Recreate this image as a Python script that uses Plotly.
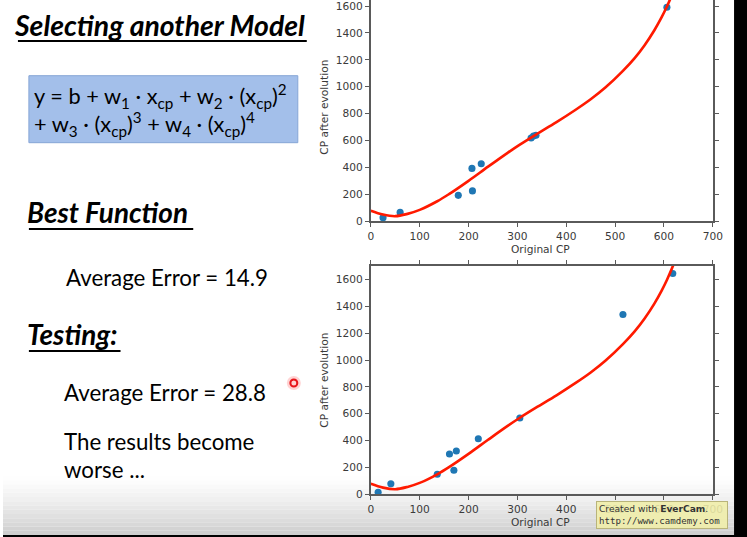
import plotly.graph_objects as go

# design coordinates are in picture pixels (747 x 537); the figure is drawn
# slightly larger because the page is captured a little smaller than drawn
K = 1.0134
W, H = 747, 537
FW, FH = round(W * K), round(H * K)

# ---------------- data ----------------
train_x = [338, 333, 328, 207, 226, 25, 179, 60, 208, 606]
train_y = [640, 633, 619, 393, 428, 27, 193, 66, 226, 1591]

test_x = [15, 41, 136, 161, 170, 175, 220, 305, 516, 618]
test_y = [15, 79, 149, 300, 179, 322, 414, 568, 1339, 1644]

# fitted model curve
curve_x = [0, 25, 50, 75, 100, 136, 160, 200, 240, 280, 305, 338, 380, 420,
           450, 480, 516, 540, 560, 580, 595, 606, 614, 620]
curve_y = [79, 50, 38, 55, 85, 149, 202, 301, 406, 509, 570, 645, 737, 831,
           907, 994, 1118, 1213, 1307, 1418, 1515, 1596, 1662, 1716]

x_ticks = [0, 100, 200, 300, 400, 500, 600, 700]
y_ticks = [0, 200, 400, 600, 800, 1000, 1200, 1400, 1600]


def px(x):
    return x / W


def py(y):
    return 1 - y / H


def fs(s):
    return s * K


fig = go.Figure()

mk = dict(color="#1f77b4", size=fs(7))
ln = dict(color="#ff1a00", width=fs(2.6), shape="spline")
fig.add_trace(go.Scatter(x=train_x, y=train_y, mode="markers", marker=mk, xaxis="x", yaxis="y"))
fig.add_trace(go.Scatter(x=curve_x, y=curve_y, mode="lines", line=ln, xaxis="x", yaxis="y"))
fig.add_trace(go.Scatter(x=test_x, y=test_y, mode="markers", marker=mk, xaxis="x2", yaxis="y2"))
fig.add_trace(go.Scatter(x=curve_x, y=curve_y, mode="lines", line=ln, xaxis="x2", yaxis="y2"))

tickfont = dict(family="DejaVu Sans", size=fs(10.5), color="#3a3a3a")
axcommon = dict(showgrid=False, zeroline=False, showline=True, linecolor="#5a5a5a",
                linewidth=fs(1.5), ticks="outside", ticklen=fs(4), tickwidth=1,
                tickcolor="#5a5a5a", tickfont=tickfont, ticklabeloverflow="allow")

xd = [px(369.3), px(712.7)]
fig.update_layout(
    width=FW, height=FH,
    margin=dict(l=0, r=0, t=0, b=0),
    paper_bgcolor="white",
    plot_bgcolor="rgba(0,0,0,0)",
    showlegend=False,
    xaxis=dict(domain=xd, range=[0, 700], tickvals=x_ticks, anchor="y",
               mirror=False, **axcommon),
    yaxis=dict(domain=[py(221.3), 1], range=[0, 1644.6], tickvals=y_ticks,
               anchor="x", mirror="allticks", **axcommon),
    xaxis2=dict(domain=xd, range=[0, 700], tickvals=x_ticks, anchor="y2",
                mirror="allticks", **axcommon),
    yaxis2=dict(domain=[py(494.3), py(266)], range=[0, 1700], tickvals=y_ticks,
                anchor="x2", mirror="allticks", **axcommon),
)

shapes = []
annotations = []

# bottom shading of the video frame
n = 14
y_start, y_end = 476, 535
for i in range(n):
    y0 = y_start + (y_end - y_start) * i / n
    y1 = y_start + (y_end - y_start) * (i + 1) / n
    g = int(255 - (255 - 205) * ((i + 0.5) / n) ** 1.3)
    shapes.append(dict(type="rect", xref="paper", yref="paper",
                       x0=0, x1=1, y0=py(y1), y1=py(y0),
                       fillcolor=f"rgb({g},{g},{g})", line=dict(width=0), layer="below"))
shapes.append(dict(type="rect", xref="paper", yref="paper", x0=0, x1=1,
                   y0=0, y1=py(535), fillcolor="black", line=dict(width=0), layer="above"))
shapes.append(dict(type="rect", xref="paper", yref="paper", x0=px(734), x1=1,
                   y0=0, y1=1, fillcolor="black", line=dict(width=0), layer="above"))

# formula box
shapes.append(dict(type="rect", xref="paper", yref="paper",
                   x0=px(26), x1=px(296), y0=py(142.7), y1=py(75.7),
                   fillcolor="#a3bfea", line=dict(color="#86a5d6", width=1), layer="below"))

# underlines
for x0, x1, y in [(15, 305, 41), (26, 191, 229), (26, 118, 351)]:
    shapes.append(dict(type="line", xref="paper", yref="paper",
                       x0=px(x0), x1=px(x1), y0=py(y), y1=py(y),
                       line=dict(color="black", width=fs(1.8))))

# laser pointer dot
shapes.append(dict(type="circle", xref="paper", yref="paper",
                   x0=px(285), x1=px(299), y0=py(390), y1=py(376),
                   fillcolor="rgba(255,80,80,0.25)", line=dict(width=0)))
shapes.append(dict(type="circle", xref="paper", yref="paper",
                   x0=px(288.5), x1=px(295.5), y0=py(386.5), y1=py(379.5),
                   fillcolor="rgba(255,210,210,1)", line=dict(color="#e8141a", width=2)))

slide_font = "Lato"


def txt(x, y, s, size, bold=False, italic=False, color="black", family=slide_font):
    if bold:
        s = f"<b>{s}</b>"
    if italic:
        s = f"<i>{s}</i>"
    annotations.append(dict(x=px(x), y=py(y), xref="paper", yref="paper",
                            xanchor="left", yanchor="middle", showarrow=False,
                            text=s, font=dict(family=family, size=fs(size), color=color)))


txt(9, 25, "Selecting another Model", 28, bold=True, italic=True)
txt(29, 96, "y = b + w<sub>1</sub> · x<sub>cp</sub> + w<sub>2</sub> · (x<sub>cp</sub>)<sup>2</sup>", 21.5)
txt(29, 124, "+ w<sub>3</sub> · (x<sub>cp</sub>)<sup>3</sup> + w<sub>4</sub> · (x<sub>cp</sub>)<sup>4</sup>", 21.5)
txt(22, 213, "Best Function", 27.5, bold=True, italic=True)
txt(61, 277, "Average Error = 14.9", 22)
txt(22, 334, "Testing:", 27.5, bold=True, italic=True)
txt(59, 392, "Average Error = 28.8", 22)
txt(59, 441, "The results become", 22)
txt(59, 469, "worse ...", 22)

# axis titles
labfont = dict(family="DejaVu Sans", size=fs(10.5), color="#3a3a3a")
for cy in [107, 380]:
    annotations.append(dict(x=px(322), y=py(cy), xref="paper", yref="paper",
                            text="CP after evolution", textangle=-90, showarrow=False,
                            xanchor="center", yanchor="middle", font=labfont))
for cy in [249, 522]:
    annotations.append(dict(x=px(540), y=py(cy), xref="paper", yref="paper",
                            text="Original CP", showarrow=False,
                            xanchor="center", yanchor="middle", font=labfont))

# watermark
annotations.append(dict(x=px(662), y=py(515), xref="paper", yref="paper",
                        xanchor="center", yanchor="middle", showarrow=False,
                        text="<span style='font-family:DejaVu Sans'>Created with </span>"
                             "<b>EverCam</b>.<br>"
                             "<span style='font-family:DejaVu Sans Mono'>http://www.camdemy.com</span>",
                        align="left",
                        font=dict(family="DejaVu Sans", size=fs(9), color="#333"),
                        bgcolor="rgba(240,238,168,0.88)", bordercolor="#b9b47a",
                        borderwidth=1, borderpad=2, width=fs(124), height=fs(22)))

fig.update_layout(shapes=shapes, annotations=annotations)
fig.write_html("out.html")
